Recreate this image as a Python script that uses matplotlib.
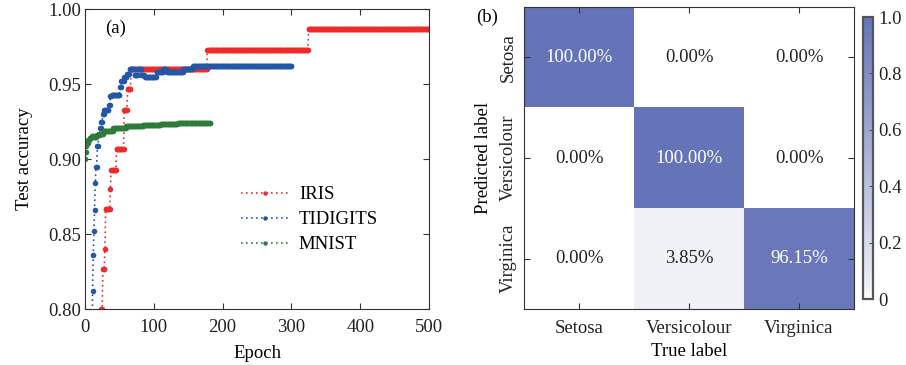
import numpy as np
import matplotlib
matplotlib.use("Agg")
import matplotlib.pyplot as plt
from matplotlib.colors import LinearSegmentedColormap

plt.rcParams['font.family'] = ['Liberation Serif', 'DejaVu Serif']
plt.rcParams['font.size'] = 13.5

# %% data: (epoch where value changes, accuracy), held until next change
iris_epochs = [23, 24, 26, 29, 30, 37, 38, 46, 57, 62, 67, 178, 325]
iris_acc = [0.760, 0.800, 0.827, 0.840, 0.867, 0.880, 0.893, 0.907, 0.933, 0.947, 0.960, 0.973, 0.987]
iris_last = 500

tidi_epochs = [9, 11, 12, 13, 14, 15, 16, 18, 20, 22, 24, 26, 28, 35, 37, 39, 51, 53, 57,
               61, 65, 72, 77, 82, 87, 104, 114, 119, 143, 157]
tidi_acc = [0.760, 0.812, 0.836, 0.852, 0.866, 0.884, 0.895, 0.909, 0.916, 0.921, 0.925,
            0.930, 0.933, 0.936, 0.942, 0.943, 0.948, 0.952, 0.955, 0.957, 0.960, 0.956,
            0.960, 0.956, 0.955, 0.958, 0.960, 0.958, 0.960, 0.962]
tidi_last = 300

mnist_epochs = [0, 1, 2, 3, 5, 7, 10, 13, 17, 20, 27, 41, 60, 85, 110, 135, 165]
mnist_acc = [0.900, 0.905, 0.909, 0.911, 0.913, 0.914, 0.9155, 0.915, 0.916, 0.917, 0.919,
             0.9205, 0.922, 0.923, 0.9235, 0.924, 0.9242]
mnist_last = 182

classes = ['Setosa', 'Versicolour', 'Virginica']
conf = np.array([[1.0, 0.0, 0.0],
                 [0.0, 1.0, 0.0],
                 [0.0, 0.0385, 0.9615]])

RED = '#ee2b2b'
BLUE = '#2457a8'
GREEN = '#2e7b3a'
SPINE = '#333333'


# %%
def per_epoch(epochs, acc, last):
    # accuracy logged every epoch; hold each read value until the next change
    ep = np.arange(epochs[0], last + 1)
    idx = np.searchsorted(epochs, ep, side='right') - 1
    return ep, np.asarray(acc)[idx]


fig = plt.figure(figsize=(9.06, 3.65), dpi=100)
ax = fig.add_axes([0.0938, 0.1534, 0.3797, 0.8219])

for name, e, a, last, c in [('IRIS', iris_epochs, iris_acc, iris_last, RED),
                            ('TIDIGITS', tidi_epochs, tidi_acc, tidi_last, BLUE),
                            ('MNIST', mnist_epochs, mnist_acc, mnist_last, GREEN)]:
    ep, acc = per_epoch(e, a, last)
    ax.plot(ep, acc, linestyle=(0, (1, 2)), lw=1.2, color=c, marker='o',
            markersize=4, markeredgewidth=0, label=name)

ax.set_xlim(0, 500)
ax.set_ylim(0.80, 1.00)
ax.set_xticks(np.arange(0, 501, 100))
ax.set_yticks([0.80, 0.85, 0.90, 0.95, 1.00])
ax.set_yticklabels(['0.80', '0.85', '0.90', '0.95', '1.00'])
ax.tick_params(direction='in', top=True, right=True, length=4, color=SPINE,
               labelcolor='#222222', pad=3)
ax.tick_params(axis='x', pad=7)
for s in ax.spines.values():
    s.set_color(SPINE)
ax.set_xlabel('Epoch', labelpad=7)
ax.set_ylabel('Test accuracy', labelpad=11)
ax.text(0.058, 0.937, '(a)', transform=ax.transAxes, va='center', ha='left')
ax.legend(loc='center left', bbox_to_anchor=(0.453, 0.297), frameon=False,
          numpoints=1, handlelength=2.6, handletextpad=0.5, labelspacing=0.42,
          borderpad=0, borderaxespad=0, markerscale=0.8)

# %% confusion matrix
cmap = LinearSegmentedColormap.from_list('cm', [(0, '#ffffff'), (0.04, '#eef0f7'), (1, '#6574b9')])
ax2 = fig.add_axes([0.5784, 0.1534, 0.3642, 0.8274])
im = ax2.imshow(conf, cmap=cmap, vmin=0, vmax=1, aspect='auto')
for i in range(3):
    for j in range(3):
        v = conf[i, j]
        ax2.text(j, i, f'{v * 100:.2f}%', ha='center', va='center',
                 color='white' if v > 0.5 else '#222222')
ax2.set_xticks(range(3))
ax2.set_xticklabels(classes)
ax2.set_yticks(range(3))
ax2.set_yticklabels(classes, rotation=90, va='center')
ax2.tick_params(direction='in', top=True, right=True, length=4, color=SPINE,
                labelcolor='#222222', pad=5)
ax2.tick_params(axis='x', pad=8)
for s in ax2.spines.values():
    s.set_color(SPINE)
ax2.set_xlabel('True label', labelpad=4)
ax2.set_ylabel('Predicted label', labelpad=6)
fig.text(0.525, 0.953, '(b)', ha='left', va='center')

cax = fig.add_axes([0.9525, 0.1808, 0.011, 0.7726])
cb = fig.colorbar(im, cax=cax)
cb.set_ticks([0, 0.2, 0.4, 0.6, 0.8, 1.0])
cb.set_ticklabels(['0', '0.2', '0.4', '0.6', '0.8', '1.0'])
cb.outline.set_edgecolor('#555555')
cb.outline.set_linewidth(1.6)
cax.tick_params(direction='in', length=3, color='#555555', labelcolor='#222222', pad=4)

fig.savefig('out.png', dpi=100)
